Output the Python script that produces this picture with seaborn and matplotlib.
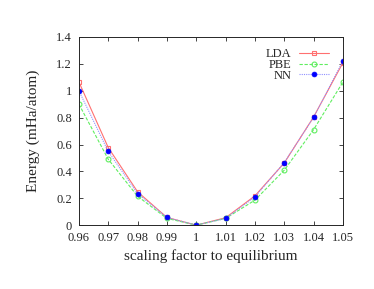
import numpy as np
import pandas as pd
import matplotlib
matplotlib.use('Agg')
import matplotlib.pyplot as plt
import seaborn as sns

# data
scale = [0.96, 0.97, 0.98, 0.99, 1.00, 1.01, 1.02, 1.03, 1.04, 1.05]
lda = [1.065, 0.577, 0.248, 0.057, 0.0, 0.055, 0.218, 0.463, 0.805, 1.209]
pbe = [0.900, 0.490, 0.215, 0.050, 0.0, 0.050, 0.186, 0.409, 0.711, 1.065]
nn = [1.000, 0.548, 0.235, 0.057, 0.0, 0.050, 0.210, 0.466, 0.802, 1.222]

xticks = [0.96, 0.97, 0.98, 0.99, 1.00, 1.01, 1.02, 1.03, 1.04, 1.05]
xticklabels = ['0.96', '0.97', '0.98', '0.99', '1', '1.01', '1.02', '1.03', '1.04', '1.05']
yticks = [0, 0.2, 0.4, 0.6, 0.8, 1.0, 1.2, 1.4]
yticklabels = ['0', '0.2', '0.4', '0.6', '0.8', '1', '1.2', '1.4']

sns.set_style('ticks')
plt.rcParams['font.family'] = ['Liberation Serif', 'DejaVu Serif']
plt.rcParams['xtick.direction'] = 'in'
plt.rcParams['ytick.direction'] = 'in'

fig = plt.figure(figsize=(3.74, 2.89), dpi=100)
ax = fig.add_axes([0.211, 0.221, 0.706, 0.651])

df = pd.DataFrame({'x': scale, 'LDA': lda, 'PBE': pbe, 'NN': nn})

sns.lineplot(data=df, x='x', y='LDA', ax=ax, color='#ff7070', lw=0.8,
             marker='s', markersize=3.5, markerfacecolor='none',
             markeredgecolor='#ff7070', markeredgewidth=0.8, label='LDA')
sns.lineplot(data=df, x='x', y='PBE', ax=ax, color='#60ee60', lw=0.8,
             linestyle=(0, (3, 1.5)), marker='o', markersize=3.5,
             markerfacecolor='none', markeredgecolor='#60ee60',
             markeredgewidth=0.8, label='PBE')
sns.lineplot(data=df, x='x', y='NN', ax=ax, color='#9090ff', lw=0.8,
             linestyle=(0, (1, 1)), marker='o', markersize=3.5,
             markerfacecolor='#0000ff', markeredgecolor='#0000ff',
             markeredgewidth=0.5, label='NN')

ax.set_xlim(0.96, 1.05)
ax.set_ylim(0, 1.4)
ax.set_xticks(xticks)
ax.set_xticklabels(xticklabels)
ax.set_yticks(yticks)
ax.set_yticklabels(yticklabels)
ax.tick_params(labelsize=9, length=3, width=0.6, top=True, right=True, pad=5)
for s in ax.spines.values():
    s.set_linewidth(0.7)

ax.set_xlabel('scaling factor to equilibrium', fontsize=11, labelpad=4)
ax.set_ylabel('Energy (mHa/atom)', fontsize=11, labelpad=12)

ax.legend(loc='upper right', frameon=False, markerfirst=False, fontsize=9,
          handlelength=2.4, labelspacing=-0.1, borderaxespad=0.5,
          handletextpad=0.6, bbox_to_anchor=(0.99, 1.0))

fig.savefig('out.png', dpi=100)
